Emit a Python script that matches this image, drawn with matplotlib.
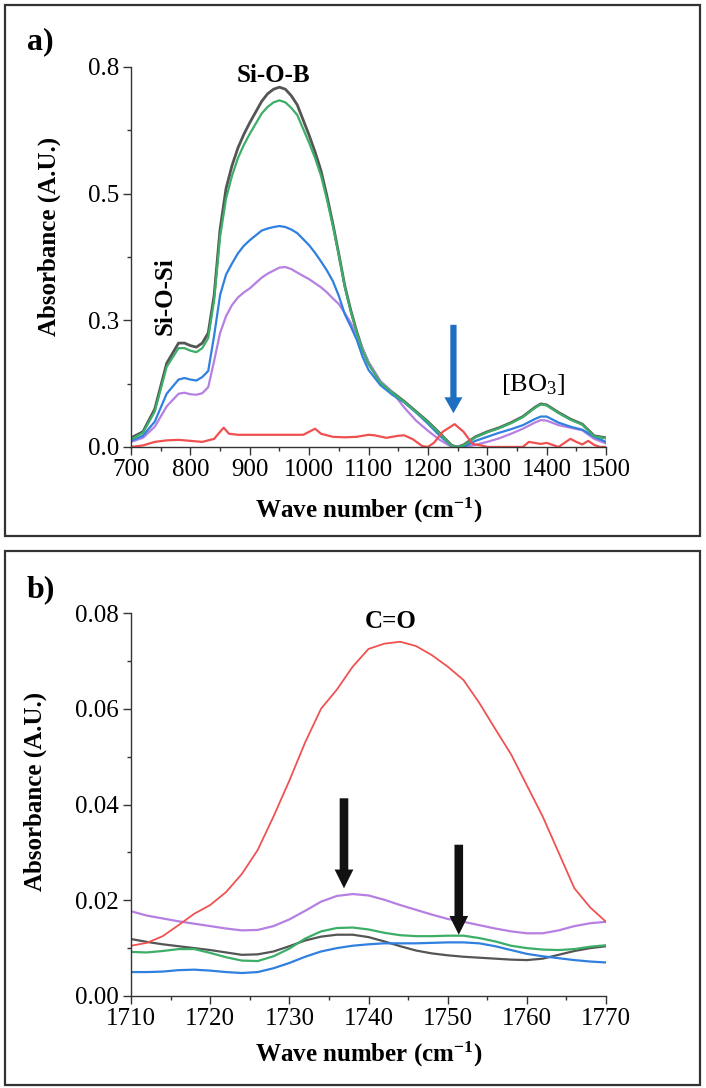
import matplotlib
matplotlib.use("Agg")
import matplotlib.pyplot as plt
from matplotlib.patches import Rectangle

plt.rcParams['font.family'] = ['Liberation Serif', 'DejaVu Serif']
plt.rcParams['mathtext.fontset'] = 'custom'
plt.rcParams['mathtext.rm'] = 'Liberation Serif'
plt.rcParams['mathtext.it'] = 'Liberation Serif:italic'
plt.rcParams['mathtext.bf'] = 'Liberation Serif:bold'

# ---------------- Panel a data ----------------
xa = [700, 720, 740, 760, 780, 790, 800, 810, 820, 830, 840, 850, 860, 870, 880, 890,
      900, 920, 930, 940, 950, 960, 970, 980, 1000, 1010, 1020, 1030, 1040, 1050, 1060,
      1070, 1080, 1090, 1100, 1120, 1140,
      1160, 1180, 1200, 1220, 1240, 1250, 1260, 1280, 1300, 1320, 1340, 1360, 1380,
      1390, 1400, 1420, 1440, 1460, 1480, 1500]
a_black = [0.018, 0.030, 0.075, 0.165, 0.205, 0.205, 0.200, 0.197, 0.205, 0.225, 0.300,
           0.430, 0.510, 0.555, 0.590, 0.617, 0.640, 0.682, 0.697, 0.706, 0.710, 0.706,
           0.693, 0.675, 0.615, 0.582, 0.545, 0.495, 0.440, 0.380, 0.318, 0.270, 0.228,
           0.192, 0.165, 0.128, 0.108, 0.090, 0.070, 0.050, 0.027,
           0.003, 0.000, 0.004, 0.020, 0.030, 0.038, 0.048, 0.060, 0.078, 0.085, 0.083,
           0.068, 0.055, 0.045, 0.022, 0.018]
a_green = [0.015, 0.028, 0.070, 0.158, 0.195, 0.195, 0.190, 0.187, 0.195, 0.215, 0.290,
           0.415, 0.490, 0.535, 0.570, 0.596, 0.618, 0.658, 0.671, 0.680, 0.684, 0.680,
           0.669, 0.655, 0.600, 0.570, 0.535, 0.488, 0.436, 0.378, 0.316, 0.268, 0.226,
           0.191, 0.164, 0.127, 0.107, 0.089, 0.069, 0.049, 0.026,
           0.002, 0.000, 0.003, 0.019, 0.029, 0.037, 0.047, 0.059, 0.077, 0.084, 0.082,
           0.067, 0.054, 0.044, 0.021, 0.017]
a_blue = [0.012, 0.022, 0.050, 0.105, 0.133, 0.136, 0.133, 0.131, 0.138, 0.150, 0.220,
          0.300, 0.340, 0.362, 0.382, 0.397, 0.408, 0.427, 0.431, 0.434, 0.436, 0.434,
          0.429, 0.422, 0.398, 0.383, 0.366, 0.348, 0.327, 0.298, 0.262, 0.238, 0.212,
          0.178, 0.152, 0.122, 0.103, 0.088, 0.068, 0.046, 0.022,
          0.002, 0.000, 0.000, 0.012, 0.020, 0.028, 0.035, 0.043, 0.055, 0.060, 0.060,
          0.048, 0.040, 0.034, 0.020, 0.010]
a_purple = [0.010, 0.018, 0.040, 0.080, 0.105, 0.107, 0.104, 0.103, 0.106, 0.118, 0.170,
            0.225, 0.258, 0.280, 0.295, 0.305, 0.313, 0.334, 0.342, 0.348, 0.354, 0.355,
            0.351, 0.344, 0.331, 0.323, 0.315, 0.305, 0.293, 0.282, 0.264, 0.245, 0.222,
            0.195, 0.168, 0.130, 0.108, 0.078, 0.052, 0.032, 0.014,
            0.000, 0.000, 0.000, 0.004, 0.010, 0.017, 0.026, 0.036, 0.048, 0.053, 0.052,
            0.043, 0.038, 0.033, 0.016, 0.007]
xa_red = [700, 720, 740, 760, 780, 800, 820, 840, 850, 856, 865, 880, 900, 950, 990, 1000,
          1010, 1020, 1040, 1060, 1080, 1100, 1110, 1130, 1150, 1160, 1175, 1190, 1200,
          1210, 1225, 1245, 1260, 1275, 1290, 1300, 1360, 1370, 1390, 1400, 1420, 1440,
          1450, 1460, 1470, 1480, 1490, 1500]
a_red = [0.000, 0.003, 0.010, 0.013, 0.014, 0.012, 0.010, 0.016, 0.030, 0.038, 0.026,
         0.024, 0.024, 0.024, 0.024, 0.030, 0.036, 0.026, 0.020, 0.019, 0.020, 0.024,
         0.023, 0.018, 0.022, 0.023, 0.015, 0.002, 0.000, 0.008, 0.030, 0.045, 0.030,
         0.006, 0.003, 0.000, 0.000, 0.010, 0.006, 0.008, 0.000, 0.016, 0.010, 0.005,
         0.012, 0.004, 0.000, 0.000]
a_yticks = [0.0, 0.25, 0.5, 0.75]
a_yticklabels = ['0.0', '0.3', '0.5', '0.8']
a_xticks = [700, 800, 900, 1000, 1100, 1200, 1300, 1400, 1500]

# ---------------- Panel b data ----------------
xb = [1710, 1712, 1714, 1716, 1718, 1720, 1722, 1724, 1726, 1728, 1730, 1732, 1734, 1736,
      1738, 1740, 1742, 1744, 1746, 1748, 1750, 1752, 1754, 1756, 1758, 1760, 1762, 1764,
      1766, 1768, 1770]
b_red = [0.0105, 0.0111, 0.0125, 0.0148, 0.0172, 0.0190, 0.0217, 0.0255, 0.0305, 0.0375,
         0.0450, 0.0530, 0.0600, 0.0640, 0.0688, 0.0725, 0.0736, 0.0740, 0.0731, 0.0712,
         0.0688, 0.0660, 0.0612, 0.0558, 0.0505, 0.0440, 0.0375, 0.0300, 0.0225, 0.0185,
         0.0155]
b_purple = [0.0177, 0.0168, 0.0162, 0.0156, 0.0151, 0.0146, 0.0141, 0.0137, 0.0138,
            0.0146, 0.0160, 0.0178, 0.0197, 0.0209, 0.0213, 0.0210, 0.0201, 0.0190,
            0.0180, 0.0170, 0.0161, 0.0155, 0.0148, 0.0141, 0.0135, 0.0131, 0.0131,
            0.0137, 0.0146, 0.0152, 0.0155]
b_green = [0.0092, 0.0091, 0.0094, 0.0098, 0.0098, 0.0090, 0.0081, 0.0074, 0.0073, 0.0083,
           0.0099, 0.0120, 0.0135, 0.0142, 0.0143, 0.0139, 0.0132, 0.0127, 0.0125, 0.0125,
           0.0126, 0.0126, 0.0121, 0.0114, 0.0105, 0.0100, 0.0097, 0.0096, 0.0098, 0.0103,
           0.0106]
b_black = [0.0119, 0.0113, 0.0108, 0.0104, 0.0100, 0.0096, 0.0091, 0.0086, 0.0087, 0.0093,
           0.0104, 0.0116, 0.0124, 0.0128, 0.0128, 0.0123, 0.0114, 0.0104, 0.0095, 0.0089,
           0.0085, 0.0082, 0.0080, 0.0078, 0.0076, 0.0075, 0.0078, 0.0086, 0.0094, 0.0100,
           0.0104]
b_blue = [0.0050, 0.0050, 0.0051, 0.0054, 0.0055, 0.0053, 0.0050, 0.0048, 0.0050, 0.0058,
          0.0069, 0.0082, 0.0093, 0.0100, 0.0105, 0.0108, 0.0110, 0.0110, 0.0110, 0.0111,
          0.0112, 0.0112, 0.0110, 0.0104, 0.0096, 0.0088, 0.0083, 0.0079, 0.0075, 0.0072,
          0.0070]
b_yticks = [0.0, 0.02, 0.04, 0.06, 0.08]
b_yticklabels = ['0.00', '0.02', '0.04', '0.06', '0.08']
b_xticks = [1710, 1720, 1730, 1740, 1750, 1760, 1770]

C_BLACK = '#555555'
C_GREEN = '#3cae68'
C_BLUE = '#3080e0'
C_PURPLE = '#b580e2'
C_RED = '#f05050'
LW = 1.6

fig = plt.figure(figsize=(7.06, 10.88), dpi=100)
axa = fig.add_axes([0.1856, 0.5892, 0.6728, 0.3493])
axb = fig.add_axes([0.1856, 0.08456, 0.6728, 0.3520])

# frames
for (y0, h) in [(0.5074, 0.4880), (0.0028, 0.4908)]:
    fig.patches.append(Rectangle((0.0071, y0), 0.9844, h, transform=fig.transFigure,
                                 fill=False, edgecolor='#333333', lw=1.6))

def style(ax):
    for s in ['top', 'right']:
        ax.spines[s].set_visible(False)
    for s in ['left', 'bottom']:
        ax.spines[s].set_linewidth(1.0)
        ax.spines[s].set_color('#333333')
    ax.tick_params(which='major', direction='out', length=5.5, width=1.0,
                   labelsize=18, pad=3.0, color='#333333')
    ax.tick_params(which='minor', direction='out', length=3, width=1.0, color='#333333')

# ---- panel a ----
axa.plot(xa, a_black, color=C_BLACK, lw=LW + 0.4)
axa.plot(xa, a_purple, color=C_PURPLE, lw=LW)
axa.plot(xa, a_blue, color=C_BLUE, lw=LW)
axa.plot(xa, a_green, color=C_GREEN, lw=LW)
axa.plot(xa_red, a_red, color=C_RED, lw=LW)
axa.set_xlim(700, 1500)
axa.set_ylim(0, 0.75)
axa.set_xticks(a_xticks)
axa.set_xticks([750 + 100 * i for i in range(8)], minor=True)
axa.set_yticks(a_yticks)
axa.set_yticklabels(a_yticklabels)
axa.set_yticks([0.125, 0.375, 0.625], minor=True)
style(axa)
axa.set_ylabel('Absorbance (A.U.)', fontsize=18, fontweight='bold')
axa.yaxis.set_label_coords(-0.147, 0.555)
axa.set_xlabel(r'Wave number (cm$^{\mathregular{-1}}$)', fontsize=18, fontweight='bold')
axa.xaxis.set_label_coords(0.5, -0.128)
axa.text(940, 0.733, 'Si-O-B', fontsize=18, fontweight='bold', ha='center', va='center')
axa.text(757, 0.298, 'Si-O-Si', fontsize=18, fontweight='bold', ha='center', va='center',
         rotation=90)
axa.text(1377, 0.124, r'[BO$_3$]', fontsize=19, ha='center', va='center')
axa.annotate('', xy=(1243, 0.0665), xytext=(1243, 0.241),
             arrowprops=dict(arrowstyle='simple,head_length=1.15,head_width=1.3,tail_width=0.45',
                             mutation_scale=10, color='#1f6fc0', shrinkA=0, shrinkB=0, lw=0))

# ---- panel b ----
axb.plot(xb, b_black, color=C_BLACK, lw=LW)
axb.plot(xb, b_purple, color=C_PURPLE, lw=LW)
axb.plot(xb, b_blue, color=C_BLUE, lw=LW)
axb.plot(xb, b_green, color=C_GREEN, lw=LW)
axb.plot(xb, b_red, color=C_RED, lw=LW * 0.8)
axb.set_xlim(1710, 1770)
axb.set_ylim(0, 0.08)
axb.set_xticks(b_xticks)
axb.set_xticks([1715 + 10 * i for i in range(6)], minor=True)
axb.set_yticks(b_yticks)
axb.set_yticklabels(b_yticklabels)
axb.set_yticks([0.01, 0.03, 0.05, 0.07], minor=True)
style(axb)
axb.set_ylabel('Absorbance (A.U.)', fontsize=18, fontweight='bold')
axb.yaxis.set_label_coords(-0.177, 0.535)
axb.set_xlabel(r'Wave number (cm$^{\mathregular{-1}}$)', fontsize=18, fontweight='bold')
axb.xaxis.set_label_coords(0.5, -0.115)
axb.text(1742.8, 0.0783, 'C=O', fontsize=18, fontweight='bold', ha='center', va='center')
for (xx, y0, y1) in [(1736.9, 0.0413, 0.0225), (1751.4, 0.0316, 0.0128)]:
    axb.annotate('', xy=(xx, y1), xytext=(xx, y0),
                 arrowprops=dict(arrowstyle='simple,head_length=1.35,head_width=1.35,tail_width=0.62',
                                 mutation_scale=10, color='#111111', shrinkA=0, shrinkB=0, lw=0))

fig.text(0.038, 0.9614, 'a)', fontsize=23, fontweight='bold', ha='left', va='center')
fig.text(0.038, 0.4577, 'b)', fontsize=23, fontweight='bold', ha='left', va='center')

fig.savefig('out.png', dpi=100)
